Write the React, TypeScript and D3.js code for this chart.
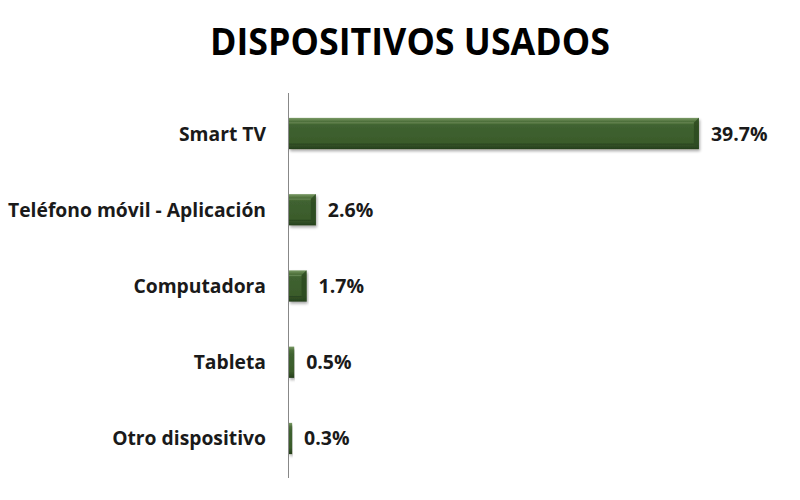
import React from "react";
import * as d3 from "d3";

const categories = ["Smart TV", "Teléfono móvil - Aplicación", "Computadora", "Tableta", "Otro dispositivo"];
const values = [39.7, 2.6, 1.7, 0.5, 0.3];
const valueLabels = ["39.7%", "2.6%", "1.7%", "0.5%", "0.3%"];
const title = "DISPOSITIVOS USADOS";

const W = 800;
const H = 500;

export default function App() {
  const y = d3.scaleBand<string>().domain(categories).range([95, 477]).paddingInner(0.59).paddingOuter(0.3);
  const x = d3.scaleLinear().domain([0, 40]).range([289, 702]);
  const bw = y.bandwidth();
  const [r0, r1] = y.range();
  return (
    <div style={{ position: "fixed", left: 0, top: 0 }}>
      <svg width={W} height={H} style={{ display: "block", background: "#fff" }}>
        <defs>
          <linearGradient id="barGrad" x1="0" y1="0" x2="0" y2="1">
            <stop offset="0" stopColor="#7a9a66" />
            <stop offset="0.12" stopColor="#4d6f3a" />
            <stop offset="0.25" stopColor="#3f6230" />
            <stop offset="0.8" stopColor="#3a5b2b" />
            <stop offset="1" stopColor="#253e1b" />
          </linearGradient>
          <filter id="shadow" x="-10%" y="-20%" width="120%" height="160%">
            <feGaussianBlur in="SourceAlpha" stdDeviation="1.5" />
            <feOffset dx="1" dy="2" result="b" />
            <feComponentTransfer>
              <feFuncA type="linear" slope="0.35" />
            </feComponentTransfer>
            <feMerge>
              <feMergeNode />
              <feMergeNode in="SourceGraphic" />
            </feMerge>
          </filter>
        </defs>
        <text
          x={410}
          y={55}
          textAnchor="middle"
          fontFamily="'Open Sans', sans-serif"
          fontWeight="bold"
          fontSize={38}
          textLength={400}
          lengthAdjust="spacingAndGlyphs"
          fill="#000"
        >
          {title}
        </text>
        {categories.map((c, i) => {
          const by = y(c) as number;
          const x0 = x(0);
          const x1 = x(values[i]);
          const w = x1 - x0;
          const bev = Math.min(5, w / 2);
          return (
            <g key={c}>
              <g filter="url(#shadow)">
                <rect x={x0} y={by} width={w} height={bw} fill="url(#barGrad)" />
                {w > 8 && (
                  <>
                    <polygon
                      points={`${x1 - bev},${by + bev} ${x1},${by} ${x1},${by + bw} ${x1 - bev},${by + bw - bev}`}
                      fill="#2c4a20"
                      opacity={0.8}
                    />
                    <line x1={x0} x2={x1 - bev} y1={by + bev} y2={by + bev} stroke="#8aa877" strokeOpacity={0.5} strokeWidth={1} />
                    <line x1={x0} x2={x1 - bev} y1={by + bw - bev} y2={by + bw - bev} stroke="#233a19" strokeOpacity={0.6} strokeWidth={1} />
                  </>
                )}
              </g>
              <text
                x={266}
                y={by + bw / 2 + 7}
                textAnchor="end"
                fontFamily="'Open Sans', sans-serif"
                fontWeight="bold"
                fontSize={19.3}
                fill="#1a1a1a"
              >
                {c}
              </text>
              <text
                x={x1 + 12}
                y={by + bw / 2 + 7}
                textAnchor="start"
                fontFamily="'Open Sans', sans-serif"
                fontWeight="bold"
                fontSize={19.5}
                fill="#1a1a1a"
              >
                {valueLabels[i]}
              </text>
            </g>
          );
        })}
        <line x1={x(0) - 0.5} x2={x(0) - 0.5} y1={r0 - 2} y2={r1 + 1} stroke="#888" strokeWidth={1} />
      </svg>
    </div>
  );
}
